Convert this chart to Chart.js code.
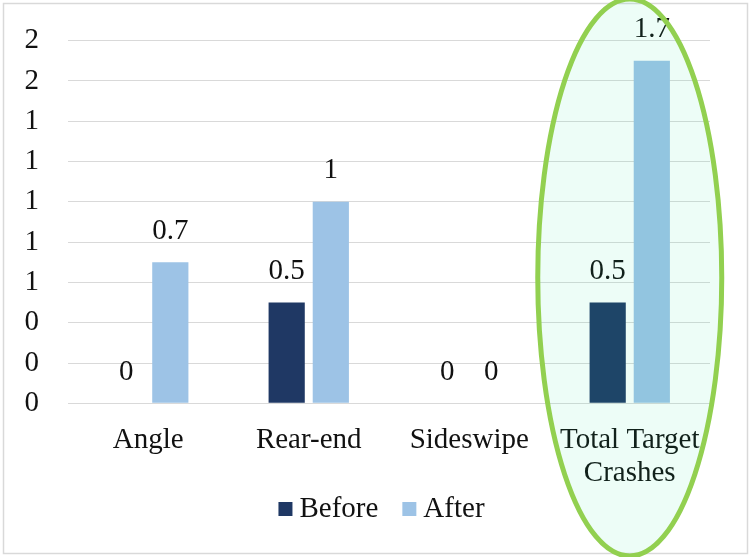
<!DOCTYPE html>
<html>
<head>
<meta charset="utf-8">
<script src="https://cdn.jsdelivr.net/npm/chart.js@4/dist/chart.umd.min.js"></script>
<style>
  html, body { margin: 0; padding: 0; background: #fff; }
  #wrap { width: 751px; height: 557px; position: relative; }
</style>
</head>
<body>
<div id="wrap"><canvas id="c" width="751" height="557"></canvas></div>
<script>
const categories = ["Angle", "Rear-end", "Sideswipe", ["Total Target", "Crashes"]];
const seriesNames = ["Before", "After"];
const beforeValues = [0, 0.5, 0, 0.5];
const afterValues = [0.7, 1, 0, 1.7];
const yMin = 0, yMax = 1.8, yStep = 0.2;

const FONT = "'Liberation Serif', 'Times New Roman', serif";
const FONT_SIZE = 29;
const TEXT = "#111";
const COLORS = ["#1f3864", "#9dc3e6"];

// frame around the whole chart
const framePlugin = {
  id: "frame",
  beforeDraw(chart) {
    const ctx = chart.ctx;
    ctx.save();
    ctx.fillStyle = "#fff";
    ctx.fillRect(0, 0, chart.width, chart.height);
    ctx.strokeStyle = "#d9d9d9";
    ctx.lineWidth = 1.5;
    ctx.strokeRect(3.5, 3.5, chart.width - 7, chart.height - 7);
    ctx.restore();
  }
};

// value labels above each bar
const valueLabels = {
  id: "valueLabels",
  afterDatasetsDraw(chart) {
    const ctx = chart.ctx;
    ctx.save();
    ctx.font = FONT_SIZE + "px " + FONT;
    ctx.fillStyle = TEXT;
    ctx.textAlign = "center";
    ctx.textBaseline = "middle";
    chart.data.datasets.forEach((ds, i) => {
      chart.getDatasetMeta(i).data.forEach((bar, j) => {
        ctx.fillText(String(ds.data[j]), bar.x, bar.y - 31);
      });
    });
    ctx.restore();
  }
};

// compact legend row under the category labels
const legendRow = {
  id: "legendRow",
  afterDraw(chart) {
    const ctx = chart.ctx;
    ctx.save();
    ctx.font = FONT_SIZE + "px " + FONT;
    ctx.textBaseline = "middle";
    const box = 14, gapText = 7, gapItem = 24;
    const items = chart.data.datasets.map(ds => ({
      label: ds.label, color: ds.backgroundColor, w: ctx.measureText(ds.label).width
    }));
    const total = items.reduce((s, it) => s + box + gapText + it.w, 0) + gapItem * (items.length - 1);
    let x = chart.width / 2 + 6 - total / 2;
    const y = chart.height - 48;
    items.forEach(it => {
      ctx.fillStyle = it.color;
      ctx.fillRect(x, y - box / 2, box, box);
      x += box + gapText;
      ctx.fillStyle = TEXT;
      ctx.fillText(it.label, x, y);
      x += it.w + gapItem;
    });
    ctx.restore();
  }
};

// highlight ring around the last category
const highlight = {
  id: "highlight",
  afterDraw(chart) {
    const ctx = chart.ctx;
    const cx = chart.scales.x.getPixelForValue(categories.length - 1);
    const cy = chart.height / 2 - 1;
    ctx.save();
    ctx.beginPath();
    ctx.ellipse(cx, cy, 92, cy + 1, 0, 0, Math.PI * 2);
    ctx.fillStyle = "rgba(31,230,155,0.08)";
    ctx.fill();
    ctx.lineWidth = 5;
    ctx.strokeStyle = "#92d050";
    ctx.stroke();
    ctx.restore();
  }
};

new Chart(document.getElementById("c"), {
  type: "bar",
  data: {
    labels: categories,
    datasets: [
      { label: seriesNames[0], data: beforeValues, backgroundColor: COLORS[0] },
      { label: seriesNames[1], data: afterValues, backgroundColor: COLORS[1] }
    ]
  },
  options: {
    responsive: false,
    animation: false,
    devicePixelRatio: 1,
    categoryPercentage: 0.55,
    barPercentage: 0.82,
    layout: { padding: { left: 0, right: 41, top: 5, bottom: 47 } },
    plugins: {
      legend: { display: false },
      tooltip: { enabled: false }
    },
    scales: {
      x: {
        grid: { display: false, drawTicks: false, tickLength: 0 },
        border: { color: "#d9d9d9" },
        ticks: { font: { family: FONT, size: FONT_SIZE, lineHeight: 1.15 }, color: TEXT, padding: 20, maxRotation: 0, autoSkip: false }
      },
      y: {
        min: yMin,
        max: yMax,
        afterFit(scale) { scale.width = 68; },
        border: { display: false },
        grid: { color: "#d9d9d9", drawTicks: false, tickLength: 0 },
        ticks: {
          stepSize: yStep,
          autoSkip: false,
          font: { family: FONT, size: FONT_SIZE, lineHeight: 0.8 },
          color: TEXT,
          padding: 29,
          callback: v => String(Math.round(v))
        }
      }
    }
  },
  plugins: [framePlugin, valueLabels, legendRow, highlight]
});
</script>
</body>
</html>
